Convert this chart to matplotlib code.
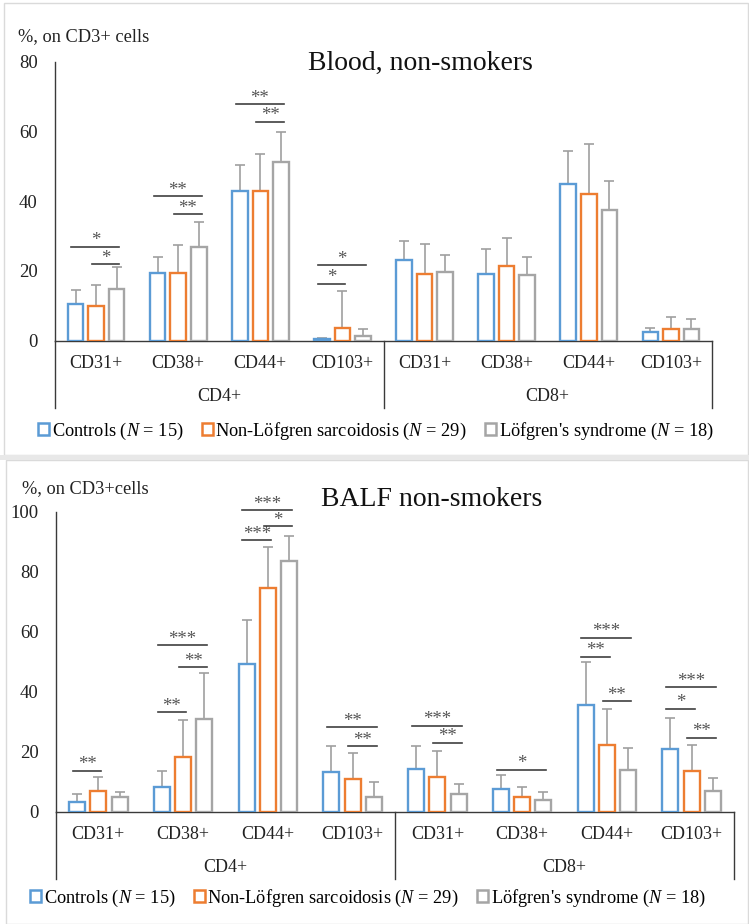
import numpy as np
import matplotlib
matplotlib.use("Agg")
import matplotlib.pyplot as plt
from matplotlib.patches import Patch, Rectangle
from matplotlib import transforms

plt.rcParams["font.family"] = ["Liberation Serif", "DejaVu Serif"]
plt.rcParams["mathtext.fontset"] = "custom"
plt.rcParams["mathtext.rm"] = "Liberation Serif"
plt.rcParams["mathtext.it"] = "Liberation Serif:italic"

# ---- data ----
markers = ["CD31+", "CD38+", "CD44+", "CD103+"] * 2
subsets = ["CD4+", "CD8+"]
groups = ["Controls ($\\mathit{N}$ = 15)",
          "Non-Löfgren sarcoidosis ($\\mathit{N}$ = 29)",
          "Löfgren's syndrome ($\\mathit{N}$ = 18)"]

blood_ctrl = [10.5, 19.4, 43.0, 0.5, 23.0, 19.2, 44.9, 2.4]
blood_ctrl_sd = [3.9, 4.6, 7.4, 0.3, 5.6, 7.0, 9.5, 1.2]
blood_nonl = [9.8, 19.4, 43.0, 3.5, 19.2, 21.5, 42.2, 3.2]
blood_nonl_sd = [6.2, 7.9, 10.7, 10.6, 8.4, 7.8, 14.2, 3.5]
blood_lofg = [14.8, 26.9, 51.3, 1.4, 19.6, 18.9, 37.6, 3.2]
blood_lofg_sd = [6.2, 7.0, 8.5, 2.0, 5.1, 5.0, 8.1, 3.0]

balf_ctrl = [3.3, 8.3, 49.1, 13.1, 14.2, 7.5, 35.6, 20.9]
balf_ctrl_sd = [2.5, 5.3, 14.7, 8.9, 7.8, 4.7, 14.2, 10.3]
balf_nonl = [6.9, 18.1, 74.4, 10.8, 11.6, 4.9, 22.2, 13.4]
balf_nonl_sd = [4.5, 12.5, 13.7, 8.6, 8.7, 3.4, 12.0, 8.9]
balf_lofg = [4.7, 30.9, 83.6, 4.9, 5.8, 4.0, 13.8, 6.7]
balf_lofg_sd = [1.9, 15.3, 8.4, 5.1, 3.4, 2.4, 7.3, 4.6]

# significance: (category, bar i, bar j, line height, stars)
blood_sig = [(0, 0, 2, 27.0, "*"), (0, 1, 2, 22.0, "*"),
             (1, 0, 2, 41.5, "**"), (1, 1, 2, 36.2, "**"),
             (2, 0, 2, 67.8, "**"), (2, 1, 2, 62.8, "**"),
             (3, 0, 2, 21.6, "*"), (3, 0, 1, 16.3, "*")]
balf_sig = [(0, 0, 1, 13.6, "**"),
            (1, 0, 1, 33.1, "**"), (1, 0, 2, 55.4, "***"), (1, 1, 2, 48.2, "**"),
            (2, 0, 1, 90.5, "***"), (2, 0, 2, 100.5, "***"), (2, 1, 2, 95.2, "*"),
            (3, 0, 2, 28.1, "**"), (3, 1, 2, 21.7, "**"),
            (4, 0, 2, 28.6, "***"), (4, 1, 2, 22.9, "**"),
            (5, 0, 2, 13.9, "*"),
            (6, 0, 2, 58.0, "***"), (6, 0, 1, 51.7, "**"), (6, 1, 2, 36.7, "**"),
            (7, 0, 2, 41.5, "***"), (7, 0, 1, 34.3, "*"), (7, 1, 2, 24.6, "**")]

colors = ["#5B9BD5", "#ED7D31", "#A5A5A5"]
err_color = "#9f9f9f"
axis_color = "#3a3a3a"
star_color = "#555555"

W, H = 749, 924
fig = plt.figure(figsize=(W / 100, H / 100), dpi=100)
fig.patch.set_facecolor("white")

# screenshot frames
fig.add_artist(Rectangle((4 / W, 1 - 455 / H), 744 / W, 452 / H, transform=fig.transFigure,
                         facecolor="none", edgecolor="#dadada", lw=1))
fig.add_artist(Rectangle((6 / W, 0), 742 / W, 1 - 460 / H, transform=fig.transFigure,
                         facecolor="none", edgecolor="#dadada", lw=1))
fig.add_artist(Rectangle((0, 1 - 460 / H), 1, 5 / H, transform=fig.transFigure,
                         facecolor="#e8e8e8", edgecolor="none"))

x = np.arange(8)
bw = 0.19
step = 0.25


def draw_panel(rect_px, ymax, ystep, means, sds, sig, title, title_xy, ylab, ylab_xy, leg_xy):
    left, top, right, bottom = rect_px
    ax = fig.add_axes([left / W, 1 - bottom / H, (right - left) / W, (bottom - top) / H])
    axh = bottom - top
    for k, (m, s) in enumerate(zip(means, sds)):
        xs = x + (k - 1) * step
        ax.bar(xs, m, width=bw, facecolor="white", edgecolor=colors[k], linewidth=1.7, zorder=3)
        eb = ax.errorbar(xs, m, yerr=[np.zeros(len(s)), s], fmt="none", ecolor=err_color,
                         elinewidth=1.2, capsize=3.5, capthick=1.2, zorder=2)
        eb[1][0].set_visible(False)

    ax.set_xlim(-0.5, 7.5)
    ax.set_ylim(0, ymax)
    ax.set_yticks(np.arange(0, ymax + 1, ystep))
    ax.set_xticks([])
    ax.tick_params(axis="y", length=0, pad=12.5, labelsize=13.5, labelcolor="#222222")
    for sp in ["top", "right"]:
        ax.spines[sp].set_visible(False)
    for sp in ["left", "bottom"]:
        ax.spines[sp].set_color(axis_color)
        ax.spines[sp].set_linewidth(1.0)

    # significance brackets
    for cat, i, j, yv, st in sig:
        x0 = cat + (i - 1) * step - 0.05
        x1 = cat + (j - 1) * step + 0.035
        ax.plot([x0, x1], [yv, yv], color="#404040", lw=1.2, clip_on=False, zorder=4)
        ax.annotate(st, xy=((x0 + x1) / 2, yv), xytext=(0, 1.0), textcoords="offset points",
                    ha="center", va="baseline", fontsize=13.5, color=star_color,
                    annotation_clip=False)

    # two-level category axis
    blend = transforms.blended_transform_factory(ax.transData, ax.transAxes)
    for xi, lbl in zip(x, markers):
        ax.annotate(lbl, xy=(xi, 0), xycoords=blend, xytext=(0, -23 * 0.72),
                    textcoords="offset points", ha="center", va="center", fontsize=13,
                    color="#222222")
    for gi, lbl in enumerate(subsets):
        ax.annotate(lbl, xy=(gi * 4 + 1.5, 0), xycoords=blend, xytext=(0, -56 * 0.72),
                    textcoords="offset points", ha="center", va="center", fontsize=13,
                    color="#222222")
    for xv in [-0.5, 3.5, 7.5]:
        ax.plot([xv, xv], [0, -67 / axh], transform=blend, color=axis_color, lw=1.0,
                clip_on=False)

    fig.text(title_xy[0] / W, 1 - title_xy[1] / H, title, ha="center", va="center",
             fontsize=20, color="#111111")
    fig.text(ylab_xy[0] / W, 1 - ylab_xy[1] / H, ylab, ha="left", va="center",
             fontsize=13.2, color="#222222")

    handles = [Patch(facecolor="white", edgecolor=c, linewidth=1.8) for c in colors]
    fig.legend(handles, groups, ncol=3, frameon=False, fontsize=13.2, loc="center left",
               bbox_to_anchor=(leg_xy[0] / W, 1 - leg_xy[1] / H), borderaxespad=0,
               borderpad=0, handlelength=0.6, handleheight=0.6, handletextpad=0.15,
               columnspacing=1.0)
    return ax


draw_panel((55, 62, 712, 340.5), 80, 20,
           [blood_ctrl, blood_nonl, blood_lofg], [blood_ctrl_sd, blood_nonl_sd, blood_lofg_sd],
           blood_sig, "Blood, non-smokers", (420, 63), "%, on CD3+ cells", (18, 37), (38, 431))
draw_panel((56, 511.7, 734, 811.5), 100, 20,
           [balf_ctrl, balf_nonl, balf_lofg], [balf_ctrl_sd, balf_nonl_sd, balf_lofg_sd],
           balf_sig, "BALF non-smokers", (432, 500), "%, on CD3+cells", (22, 489), (30, 898))

fig.savefig("out.png", dpi=100, facecolor="white")
